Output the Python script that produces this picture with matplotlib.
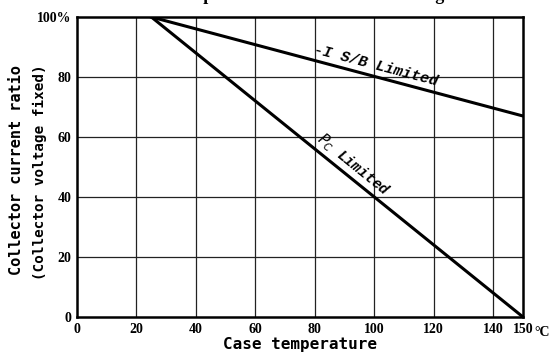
import numpy as np
import matplotlib.pyplot as plt

# Derating curves: case temperature (C) vs collector current ratio (%)
temp_pc = [25, 150]
ratio_pc = [100, 0]
temp_isb = [25, 150]
ratio_isb = [100, 67]

x_ticks = [0, 20, 40, 60, 80, 100, 120, 140, 150]
x_tick_labels = ["0", "20", "40", "60", "80", "100", "120", "140", "150"]
y_ticks = [0, 20, 40, 60, 80, 100]
y_tick_labels = ["0", "20", "40", "60", "80", "100%"]

W, H = 557, 358
fig = plt.figure(figsize=(W / 100, H / 100), dpi=100)
ax = fig.add_axes([77 / W, 1 - 317 / H, 446 / W, 300 / H])

# Grid drawn by hand so that it stops at 140 (150 is the frame)
for xv in x_ticks[1:-1]:
    ax.axvline(xv, color="#222222", lw=0.9, zorder=1)
for yv in y_ticks[1:-1]:
    ax.axhline(yv, color="#222222", lw=0.9, zorder=1)

ax.plot(temp_pc, ratio_pc, color="black", lw=2.2, zorder=3)
ax.plot(temp_isb, ratio_isb, color="black", lw=2.2, zorder=3)

ax.set_xlim(0, 150)
ax.set_ylim(0, 100)
ax.set_xticks(x_ticks)
ax.set_xticklabels(x_tick_labels)
ax.set_yticks(y_ticks)
ax.set_yticklabels(y_tick_labels)
ax.tick_params(length=0, pad=4, labelsize=10)
for lab in ax.get_xticklabels() + ax.get_yticklabels():
    lab.set_fontfamily("Liberation Serif")
    lab.set_fontweight("bold")
for sp in ax.spines.values():
    sp.set_linewidth(1.8)

# degree sign after the last x tick
ax.annotate("°C", xy=(150, 0), xytext=(8, -11), textcoords="offset points",
            ha="left", va="center", fontsize=10, fontweight="bold",
            family="Liberation Serif", annotation_clip=False)

# curve labels along the lines
ax.text(100, 81.5, "-I S/B Limited", rotation=-14.8, rotation_mode="anchor",
        ha="center", va="bottom", fontsize=11, family="Liberation Mono",
        style="italic", fontweight="bold")
ax.text(91, 48.5, r"$P_C$ Limited", rotation=-39, rotation_mode="anchor",
        ha="center", va="bottom", fontsize=10.5, family="Liberation Mono",
        style="italic", fontweight="bold")

ax.set_xlabel("Case temperature", fontsize=11.5, fontweight="bold",
              family="DejaVu Sans Mono", labelpad=1)

# two-line y label, placed by hand
fig.text(17 / W, 1 - 170 / H, "Collector current ratio", rotation=90,
         ha="center", va="center", fontsize=11, fontweight="bold",
         family="DejaVu Sans Mono")
fig.text(40 / W, 1 - 172 / H, "(Collector voltage fixed)", rotation=90,
         ha="center", va="center", fontsize=10.3, fontweight="bold",
         family="DejaVu Sans Mono")

# title of the datasheet page, cut off at the top edge
fig.text(0.5, 1.012, "Power Dissipation and IS/B vs. Tc Derating",
         ha="center", va="center", fontsize=13, fontweight="bold",
         family="Liberation Serif")

fig.savefig("out.png", dpi=100)
